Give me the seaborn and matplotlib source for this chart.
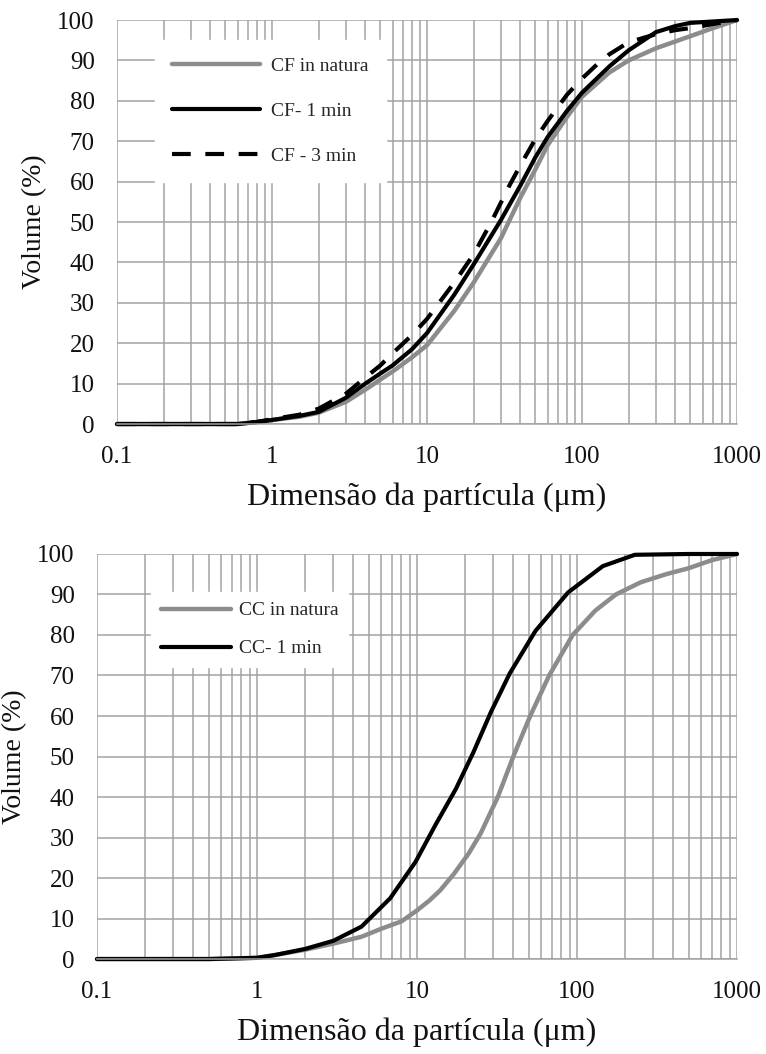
"""Curvas granulométricas acumuladas: CF (topo) e CC (base)."""

import matplotlib

matplotlib.use("Agg")
import matplotlib.pyplot as plt
import seaborn as sns
from matplotlib.ticker import FixedLocator, FuncFormatter, LogLocator, NullFormatter

# --- CF panel (top) ---
cf_natura_size = [0.1, 0.6, 0.8, 1, 1.5, 2, 3, 4, 5, 6, 8, 10, 15, 20, 30, 40, 50,
                  60, 80, 100, 150, 200, 300, 500, 700, 1000]
cf_natura_vol = [0, 0, 0.5, 1, 1.8, 2.8, 5.5, 8.5, 11, 13, 16.5, 19.5, 28, 35, 46, 56,
                 63, 69, 76, 81, 87, 90, 93, 96, 98, 100]

cf_1min_size = [0.1, 0.6, 0.8, 1, 1.5, 2, 3, 4, 5, 6, 8, 10, 15, 20, 30, 40, 50, 60,
                80, 100, 150, 200, 300, 400, 500, 1000]
cf_1min_vol = [0, 0, 0.5, 1, 2, 3, 6.5, 10, 12.5, 14.5, 18.5, 22.5, 32, 39.5, 50.5, 59,
               66, 71, 77.5, 82, 88.5, 92.5, 97, 98.5, 99.3, 100]

cf_3min_size = [0.1, 0.6, 0.8, 1, 1.5, 2, 3, 4, 5, 6, 8, 10, 15, 20, 26, 34, 40, 50,
                60, 80, 100, 125, 150, 200, 300, 400, 500, 700, 1000]
cf_3min_vol = [0, 0, 0.5, 1.2, 2.3, 3.8, 7.5, 11.5, 14.5, 17.5, 22, 26, 35, 42, 50, 59,
               64, 70.5, 75, 81.5, 85.5, 89, 91.5, 94.5, 96.5, 97.5, 98, 99, 100]

# --- CC panel (bottom) ---
cc_natura_size = [0.1, 0.5, 1.0, 1.3, 2.0, 3.0, 4.5, 6.0, 8.0, 10, 12, 14, 17, 21, 25,
                  32, 40, 51, 67, 94, 130, 175, 250, 360, 500, 700, 1000]
cc_natura_vol = [0, 0, 0.3, 1, 2.3, 3.8, 5.5, 7.5, 9.3, 12, 14.5, 17, 21, 26, 31, 40,
                 50, 60, 70, 80, 86, 90, 93, 95, 96.5, 98.5, 100]

cc_1min_size = [0.1, 0.5, 1.0, 1.3, 2.0, 3.0, 4.5, 6.8, 9.8, 13, 17.5, 22.5, 29, 38, 55,
                88, 145, 230, 500, 1000]
cc_1min_vol = [0, 0, 0.3, 1, 2.5, 4.5, 8, 15, 24, 33, 42, 51, 61, 70.5, 81, 90.5, 97,
               99.8, 100, 100]

x_ticks = [0.1, 1, 10, 100, 1000]
x_tick_labels = ["0.1", "1", "10", "100", "1000"]
y_ticks = list(range(0, 101, 10))

GRID = "#a3a3a3"
GRAY = "#8c8c8c"

sns.set_theme(style="whitegrid")
plt.rcParams["font.family"] = ["Liberation Serif", "DejaVu Serif"]


def style_axes(ax):
    ax.set_xscale("log")
    ax.set_xlim(0.1, 1000)
    ax.set_ylim(0, 100)
    ax.xaxis.set_major_locator(FixedLocator(x_ticks))
    ax.xaxis.set_major_formatter(FuncFormatter(
        lambda v, _: x_tick_labels[x_ticks.index(v)] if v in x_ticks else ""))
    ax.xaxis.set_minor_locator(LogLocator(base=10, subs=range(2, 10), numticks=20))
    ax.xaxis.set_minor_formatter(NullFormatter())
    ax.yaxis.set_major_locator(FixedLocator(y_ticks))
    ax.set_facecolor("white")
    ax.grid(True, which="both", axis="x", color=GRID, lw=1.1)
    ax.grid(True, which="major", axis="y", color=GRID, lw=1.1)
    for side in ("top", "right", "left"):
        ax.spines[side].set_visible(False)
    ax.spines["bottom"].set_color(GRID)
    ax.spines["bottom"].set_linewidth(1.1)
    ax.tick_params(axis="both", which="major", length=7, width=1.1, color=GRID,
                   labelsize=18, pad=9, labelcolor="#111111")
    ax.tick_params(axis="x", which="minor", length=0)
    ax.set_xlabel("Dimensão da partícula (μm)", fontsize=23, labelpad=10, color="#111111")
    ax.set_ylabel("Volume (%)", fontsize=20, labelpad=7, color="#111111")


fig = plt.figure(figsize=(7.66, 10.54), dpi=100)
ax_top = fig.add_axes([0.1527, 0.5977, 0.8094, 0.3833])
ax_bot = fig.add_axes([0.1266, 0.0901, 0.8355, 0.3843])

sns.lineplot(x=cf_natura_size, y=cf_natura_vol, ax=ax_top, color=GRAY, lw=3.2,
             label="CF in natura", clip_on=False)
sns.lineplot(x=cf_1min_size, y=cf_1min_vol, ax=ax_top, color="black", lw=3,
             label="CF- 1 min", clip_on=False)
sns.lineplot(x=cf_3min_size, y=cf_3min_vol, ax=ax_top, color="black", lw=3,
             linestyle=(0, (4.5, 3.5)), label="CF - 3 min", clip_on=False)
style_axes(ax_top)
ax_top.legend(loc="upper left", bbox_to_anchor=(0.045, 0.975), fontsize=14,
              frameon=True, fancybox=False, framealpha=1, facecolor="white",
              edgecolor="white", handlelength=4.5, handletextpad=0.6,
              labelspacing=1.4, borderpad=0.9)

sns.lineplot(x=cc_natura_size, y=cc_natura_vol, ax=ax_bot, color=GRAY, lw=3.2,
             label="CC in natura", clip_on=False)
sns.lineplot(x=cc_1min_size, y=cc_1min_vol, ax=ax_bot, color="black", lw=3,
             label="CC- 1 min", clip_on=False)
style_axes(ax_bot)
ax_bot.legend(loc="upper left", bbox_to_anchor=(0.07, 0.93), fontsize=14,
              frameon=True, fancybox=False, framealpha=1, facecolor="white",
              edgecolor="white", handlelength=3.6, handletextpad=0.4,
              labelspacing=1.05, borderpad=0.5)

fig.savefig("out.png", dpi=100, facecolor="white")
plt.close(fig)
